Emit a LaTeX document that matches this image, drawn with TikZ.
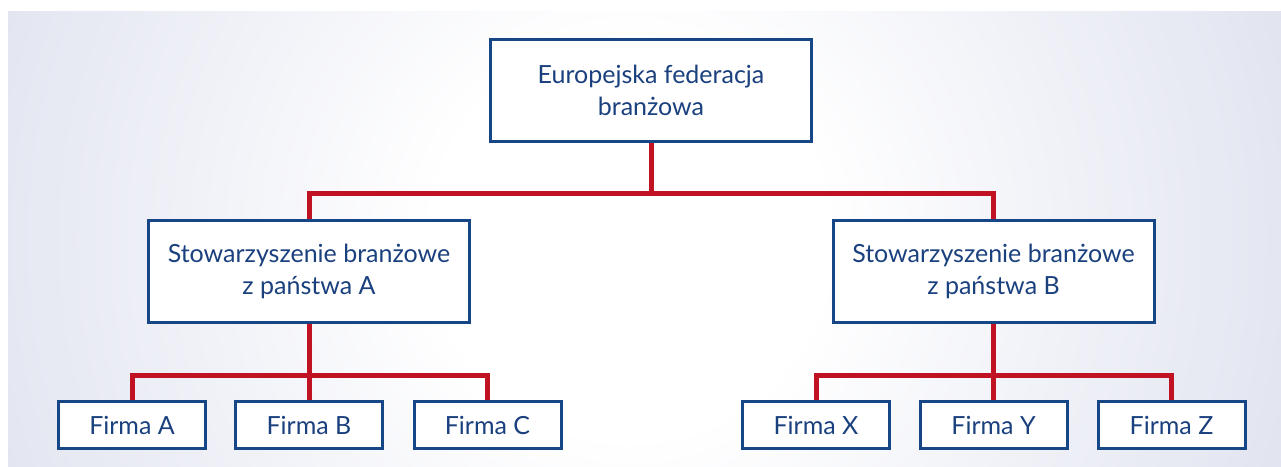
\documentclass[tikz,border=0pt]{standalone}
\usepackage{fontspec}
\setmainfont{Lato}
\definecolor{boxblue}{RGB}{22,70,134}
\definecolor{textblue}{RGB}{26,64,126}
\definecolor{linkred}{RGB}{192,18,34}
\definecolor{bgedge}{RGB}{196,201,225}
\pgfdeclarelayer{bgl}
\pgfdeclarelayer{links}
\pgfsetlayers{bgl,links,main}
\pgfdeclareradialshading{bgglow}{\pgfpoint{0bp}{0bp}}{color(0bp)=(white); color(7bp)=(white); color(42bp)=(bgedge); color(100bp)=(bgedge)}
\begin{document}
\begin{tikzpicture}[x=1pt,y=-1pt,
  box/.style={draw=boxblue, line width=3pt, fill=white, text=textblue,
    align=center, inner sep=0pt, font=\fontsize{25}{32}\selectfont},
  bigbox/.style={box, minimum width=321pt, minimum height=102pt},
  firmbox/.style={box, minimum width=147pt, minimum height=47pt},
  link/.style={draw=linkred, line width=5pt, line join=miter}]
\useasboundingbox (0,0) rectangle (1281,466);

% soft background panel
\begin{pgfonlayer}{bgl}
  \begin{scope}
    \clip (8,11) rectangle (1281,466);
    \shade[shading=bgglow] (630,240) circle (700pt);
  \end{scope}
\end{pgfonlayer}

% boxes
\node[bigbox] (top) at (651,90.5) {Europejska federacja\\branżowa};
\node[bigbox] (sa) at (309,271.5) {Stowarzyszenie branżowe\\z państwa A};
\node[bigbox] (sb) at (993.5,271.5) {Stowarzyszenie branżowe\\z państwa B};

\node[firmbox] (fa) at (132,425) {Firma A};
\node[firmbox] (fb) at (309,425) {Firma B};
\node[firmbox] (fc) at (487.5,425) {Firma C};
\node[firmbox] (fx) at (816,425) {Firma X};
\node[firmbox] (fy) at (993.5,425) {Firma Y};
\node[firmbox] (fz) at (1171.5,425) {Firma Z};

% connectors
\coordinate (bustop) at (651,193);
\coordinate (busa) at (309,375);
\coordinate (busb) at (993.5,375);
\begin{pgfonlayer}{links}
  \draw[link] (top.south) -- (bustop);
  \draw[link] (sa.north) |- (bustop) -| (sb.north);
  \draw[link] (sa.south) -- (busa);
  \draw[link] (fa.north) |- (busa) -| (fc.north);
  \draw[link] (busa) -- (fb.north);
  \draw[link] (sb.south) -- (busb);
  \draw[link] (fx.north) |- (busb) -| (fz.north);
  \draw[link] (busb) -- (fy.north);
\end{pgfonlayer}
\end{tikzpicture}
\end{document}
